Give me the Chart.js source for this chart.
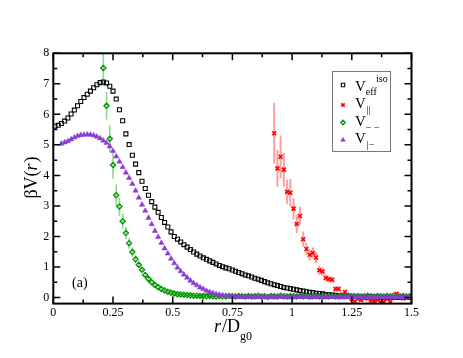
<!DOCTYPE html>
<html><head><meta charset="utf-8">
<script src="https://cdn.jsdelivr.net/npm/chart.js@4/dist/chart.umd.min.js"></script>
<style>html,body{margin:0;padding:0;background:#fff;}canvas{display:block;}</style>
</head><body>
<canvas id="c" width="463" height="358"></canvas>
<script>
// ---- data ----
const rValues = [0.007,0.0205,0.034,0.0475,0.061,0.0745,0.088,0.1015,0.115,0.1285,0.142,0.1555,0.169,0.1825,0.196,
0.2095,0.223,0.2365,0.25,0.2635,0.277,0.2905,0.304,0.3175,0.331,0.3445,0.358,0.3715,0.385,0.3985,
0.412,0.4255,0.439,0.4525,0.466,0.4795,0.493,0.5065,0.52,0.5335,0.547,0.5605,0.574,0.5875,0.601,
0.6145,0.628,0.6415,0.655,0.6685,0.682,0.6955,0.709,0.7225,0.736,0.7495,0.763,0.7765,0.79,0.8035,
0.817,0.8305,0.844,0.8575,0.871,0.8845,0.898,0.9115,0.925,0.9385,0.952,0.9655,0.979,0.9925,1.006,
1.0195,1.033,1.0465,1.06,1.0735,1.087,1.1005,1.114,1.1275,1.141,1.1545,1.168,1.1815,1.195,1.2085,
1.222,1.2355,1.249,1.2625,1.276,1.2895,1.303,1.3165,1.33,1.3435,1.357,1.3705,1.384,1.3975,1.411,
1.4245,1.438,1.4515,1.465,1.4785,1.492];

const vEffIso = [5.61,5.64,5.70,5.78,5.88,6.01,6.14,6.28,6.42,6.55,6.66,6.76,6.87,6.97,7.04,
7.06,7.03,6.92,6.76,6.50,6.15,5.79,5.36,5.01,4.66,4.37,4.09,3.81,3.57,3.35,
3.14,2.96,2.79,2.62,2.46,2.31,2.15,2.00,1.91,1.82,1.73,1.65,1.57,1.49,1.42,
1.36,1.30,1.25,1.20,1.15,1.10,1.05,1.01,0.97,0.94,0.90,0.86,0.82,0.78,0.74,
0.71,0.67,0.63,0.60,0.56,0.52,0.48,0.45,0.42,0.39,0.36,0.33,0.31,0.29,0.27,
0.25,0.23,0.21,0.19,0.17,0.16,0.14,0.13,0.12,0.10,0.09,0.08,0.07,0.06,0.05,
0.05,0.04,0.04,0.03,0.03,0.02,0.02,0.02,0.02,0.01,0.01,0.01,0.01,0.01,0.01,0.00,0.00,0.01,0.00,0.00,0.00];

const parStart = 68;
const vPar = [5.38,4.23,4.61,4.19,3.46,3.43,2.91,2.41,2.67,1.91,1.59,1.40,1.46,1.31,0.89,0.85,0.64,0.60,0.58,0.28,0.28,0.09,0.18,0.02,
-0.05,-0.13,-0.04,-0.08,-0.02,-0.03,-0.10,-0.12,-0.08,-0.16,-0.15,-0.05,-0.15,0.00,0.12,0.03,-0.03,0.00,0.02];
const vParErr = [1.0,0.6,0.7,0.55,0.4,0.45,0.35,0.3,0.3,0.25,0.2,0.2,0.18,0.18,0.15,0.14,0.12,0.1,0.1,0.1,0.09,0.08,0.08,
0.06,0.06,0.06,0.06,0.06,0.06,0.06,0.06,0.06,0.06,0.06,0.06,0.06,0.06,0.06,0.06,0.06,0.06,0.06,0.06];

const mmStart = 15;
const vMinusMinus = [7.52,6.28,5.20,4.34,3.35,2.98,2.50,2.11,1.78,1.49,1.25,1.07,0.91,0.74,0.61,
0.50,0.41,0.34,0.28,0.23,0.19,0.16,0.13,0.11,0.10,0.09,0.08,0.07,0.06,0.06,
0.05,0.05,0.04,0.05,0.04,0.03,0.05,0.04,0.03,0.05,0.04,0.03,0.05,0.04,0.03,
0.05,0.03,0.04,0.06,0.03,0.04,0.02,0.05,0.04,0.03,0.06,0.04,0.03,0.05,0.04,
0.03,0.05,0.04,0.06,0.03,0.04,0.05,0.03,0.04,0.06,0.03,0.05,0.04,0.03,0.05,
0.04,0.06,0.03,0.04,0.05,0.03,0.04,0.06,0.04,0.03,0.05,0.04,0.03,0.05,0.04,0.06,0.03,0.04,0.05,0.03,0.04];
const vMinusMinusErr = [0.6,0.45,0.44,0.45,0.35,0.3,0.25,0.2,0.18,0.15,0.13,0.1,0.08,0.07,0.06,
0.05,0.05,0.05,0.05,0.05,0.04,0.04,0.04,0.04,0.04,0.04,0.04,0.04,0.04,0.04,
0.03,0.03,0.03,0.03,0.03,0.03,0.03,0.03,0.03,0.03,0.03,0.03,0.03,0.03,0.03,
0.03,0.03,0.03,0.03,0.03,0.03,0.03,0.03,0.03,0.03,0.03,0.03,0.03,0.03,0.03,
0.03,0.03,0.03,0.03,0.03,0.03,0.03,0.03,0.03,0.03,0.03,0.03,0.03,0.03,0.03,
0.03,0.03,0.03,0.03,0.03,0.03,0.03,0.03,0.03,0.03,0.03,0.03,0.03,0.03,0.03,0.03,0.03,0.03,0.03,0.03,0.03];

const pmStart = 2;
const vParMinus = [5.04,5.08,5.12,5.18,5.24,5.29,5.32,5.33,5.34,5.33,5.31,5.27,5.21,5.14,5.06,
4.95,4.80,4.62,4.45,4.27,4.09,3.92,3.72,3.50,3.27,3.04,2.84,2.61,2.40,2.18,
1.98,1.79,1.61,1.44,1.27,1.12,0.98,0.86,0.75,0.65,0.55,0.47,0.40,0.33,0.28,
0.22,0.18,0.14,0.11,0.09,0.07,0.05,0.04,0.03,0.03,0.02,0.03,0.01,0.02,0.03,
0.00,0.02,0.01,0.03,0.01,0.02,0.00,0.02,0.03,0.01,0.02,0.00,0.01,0.03,0.02,
0.01,0.02,0.00,0.03,0.01,0.02,0.01,0.00,0.02,0.03,0.01,0.02,0.00,0.01,0.02,
0.03,0.01,0.02,0.00,0.02,0.01,0.03,0.01,0.00,0.02,0.01,0.03,0.02,0.00,0.01,0.02,0.01,0.03,0.01];

const xTicks = [0,0.25,0.5,0.75,1,1.25,1.5];
const xTickLabels = ['0','0.25','0.5','0.75','1','1.25','1.5'];
const xMinorTicks = [0.125,0.375,0.625,0.875,1.125,1.375];
const yTicks = [0,1,2,3,4,5,6,7,8];
const yTickLabels = ['0','1','2','3','4','5','6','7','8'];
const yMinorTicks = [0.5,1.5,2.5,3.5,4.5,5.5,6.5,7.5];

// ---- build ----
const SERIF = "'Liberation Serif','Times New Roman',serif";
const C_BLACK = '#000000', C_RED = 'rgb(255,0,0)', C_GREEN = 'rgb(0,150,0)', C_PURPLE = 'rgb(140,60,210)';
function pts(vals, start) { return vals.map((v, i) => ({x: rValues[start + i], y: v})); }

const errorBars = {
  id: 'errorBars',
  beforeDatasetsDraw(chart) {
    const ctx = chart.ctx, ys = chart.scales.y, a = chart.chartArea;
    ctx.save();
    ctx.beginPath(); ctx.rect(a.left, a.top, a.right - a.left, a.bottom - a.top); ctx.clip();
    chart.data.datasets.forEach((ds, i) => {
      if (!ds.errors) return;
      const meta = chart.getDatasetMeta(i);
      ctx.strokeStyle = ds.errColor; ctx.lineWidth = ds.errWidth;
      meta.data.forEach((el, j) => {
        const v = ds.data[j].y, e = ds.errors[j];
        ctx.beginPath();
        ctx.moveTo(el.x, ys.getPixelForValue(v + e));
        ctx.lineTo(el.x, ys.getPixelForValue(v - e));
        ctx.stroke();
      });
    });
    ctx.restore();
  }
};

function rich(ctx, segs, x, y, align) {
  let w = 0;
  segs.forEach(s => { ctx.font = s.font; s.w = ctx.measureText(s.t).width; w += s.w + (s.dx || 0); });
  let cx = align === 'center' ? x - w / 2 : x;
  segs.forEach(s => { ctx.font = s.font; cx += (s.dx || 0); ctx.fillText(s.t, cx, y + (s.dy || 0)); cx += s.w; });
}

const frameAndText = {
  id: 'frameAndText',
  afterDatasetsDraw(chart) {
    const ctx = chart.ctx, a = chart.chartArea, xs = chart.scales.x, ys = chart.scales.y;
    ctx.save();
    ctx.strokeStyle = '#000'; ctx.lineWidth = 1.5;
    const tick = (vals, len) => {
      vals.forEach(v => {
        const px = xs.getPixelForValue(v);
        ctx.beginPath(); ctx.moveTo(px, a.bottom); ctx.lineTo(px, a.bottom - len);
        ctx.moveTo(px, a.top); ctx.lineTo(px, a.top + len); ctx.stroke();
      });
    };
    const ytick = (vals, len) => {
      vals.forEach(v => {
        const py = ys.getPixelForValue(v);
        ctx.beginPath(); ctx.moveTo(a.left, py); ctx.lineTo(a.left + len, py);
        ctx.moveTo(a.right, py); ctx.lineTo(a.right - len, py); ctx.stroke();
      });
    };
    tick(xTicks, 7); tick(xMinorTicks, 4);
    ytick(yTicks, 7); ytick(yMinorTicks, 4);
    ctx.lineWidth = 2;
    ctx.strokeRect(a.left, a.top, a.right - a.left, a.bottom - a.top);
    ctx.restore();
  },
  afterDraw(chart) {
    const ctx = chart.ctx, H = Chart.helpers;
    ctx.save();
    ctx.fillStyle = '#000'; ctx.textBaseline = 'alphabetic'; ctx.textAlign = 'left';
    // y title
    ctx.save(); ctx.translate(37, 177.5); ctx.rotate(-Math.PI / 2);
    rich(ctx, [{t: 'βV(', font: '18px ' + SERIF}, {t: 'r', font: 'italic 18px ' + SERIF}, {t: ')', font: '18px ' + SERIF, dx: 1}], 0, 0, 'center');
    ctx.restore();
    // x title
    rich(ctx, [{t: 'r', font: 'italic 18px ' + SERIF}, {t: '/D', font: '18px ' + SERIF, dx: 1}, {t: 'g0', font: '12px ' + SERIF, dy: 7.5}], 233, 332, 'center');
    // panel label
    ctx.font = '14px ' + SERIF; ctx.fillText('(a)', 72, 287);
    // legend box
    ctx.strokeStyle = '#777'; ctx.lineWidth = 1;
    ctx.strokeRect(332.5, 71.5, 58, 80);
    const rows = [
      {y: 85, base: 90.5, ds: 0, segs: [{t: 'V', font: '15px ' + SERIF}, {t: 'eff', font: '10px ' + SERIF, dy: 4.5}]},
      {y: 105, base: 108, ds: 1, segs: [{t: 'V', font: '15px ' + SERIF}, {t: '||', font: '10px ' + SERIF, dy: 5, dx: 1}]},
      {y: 122.5, base: 125.5, ds: 2, segs: [{t: 'V', font: '15px ' + SERIF}, {t: '− −', font: '10px ' + SERIF, dy: 5}]},
      {y: 140, base: 143, ds: 3, segs: [{t: 'V', font: '15px ' + SERIF}, {t: '|−', font: '10px ' + SERIF, dy: 5, dx: 1}]}
    ];
    rows.forEach(r => {
      const ds = chart.data.datasets[r.ds];
      ctx.save();
      ctx.strokeStyle = ds.borderColor; ctx.fillStyle = ds.backgroundColor; ctx.lineWidth = ds.borderWidth;
      if (H && H.drawPoint) H.drawPoint(ctx, {pointStyle: ds.pointStyle, radius: ds.pointRadius * 0.85, rotation: 0, borderWidth: ds.borderWidth}, 343, r.y);
      ctx.restore();
      ctx.fillStyle = '#000';
      rich(ctx, r.segs, 355, r.base, 'left');
    });
    ctx.font = '10px ' + SERIF; ctx.fillText('iso', 376, 82);
    ctx.restore();
  }
};

new Chart(document.getElementById('c'), {
  type: 'scatter',
  data: {
    datasets: [
      {label: 'Veff iso', data: pts(vEffIso, 0), pointStyle: 'rect', pointRadius: 2.8, borderColor: C_BLACK, backgroundColor: 'rgba(255,255,255,0)', borderWidth: 1.1, order: 3},
      {label: 'V||', data: pts(vPar, parStart), pointStyle: 'crossRot', pointRadius: 2.8, borderColor: C_RED, backgroundColor: C_RED, borderWidth: 1.6, order: 2,
        errors: vParErr, errColor: 'rgba(255,40,40,0.45)', errWidth: 2},
      {label: 'V--', data: pts(vMinusMinus, mmStart), pointStyle: 'rectRot', pointRadius: 2.6, borderColor: C_GREEN, backgroundColor: 'rgba(255,255,255,0)', borderWidth: 1.3, order: 1,
        errors: vMinusMinusErr, errColor: 'rgba(0,170,0,0.45)', errWidth: 1.6},
      {label: 'V|-', data: pts(vParMinus, pmStart), pointStyle: 'triangle', pointRadius: 3.1, borderColor: C_PURPLE, backgroundColor: C_PURPLE, borderWidth: 0.5, order: 0}
    ]
  },
  options: {
    responsive: false, animation: false, devicePixelRatio: 1,
    layout: {padding: {left: 0, top: 53.3, right: 51.5, bottom: 0}},
    plugins: {legend: {display: false}, tooltip: {enabled: false}},
    scales: {
      x: {type: 'linear', min: 0, max: 1.5, grid: {display: false, drawTicks: false}, border: {display: false},
        ticks: {padding: 2, color: '#000', font: {family: SERIF, size: 12}, maxRotation: 0, autoSkip: false,
          callback: (v, i) => xTickLabels[i]},
        afterBuildTicks(s) { s.ticks = xTicks.map(v => ({value: v})); },
        afterFit(s) { s.height = 54.4; }},
      y: {type: 'linear', min: -0.2, max: 8, grid: {display: false, drawTicks: false}, border: {display: false},
        ticks: {padding: 4, color: '#000', font: {family: SERIF, size: 12}, autoSkip: false,
          callback: (v, i) => yTickLabels[i]},
        afterBuildTicks(s) { s.ticks = yTicks.map(v => ({value: v})); },
        afterFit(s) { s.width = 53.3; }}
    }
  },
  plugins: [errorBars, frameAndText]
});
</script>
</body></html>
